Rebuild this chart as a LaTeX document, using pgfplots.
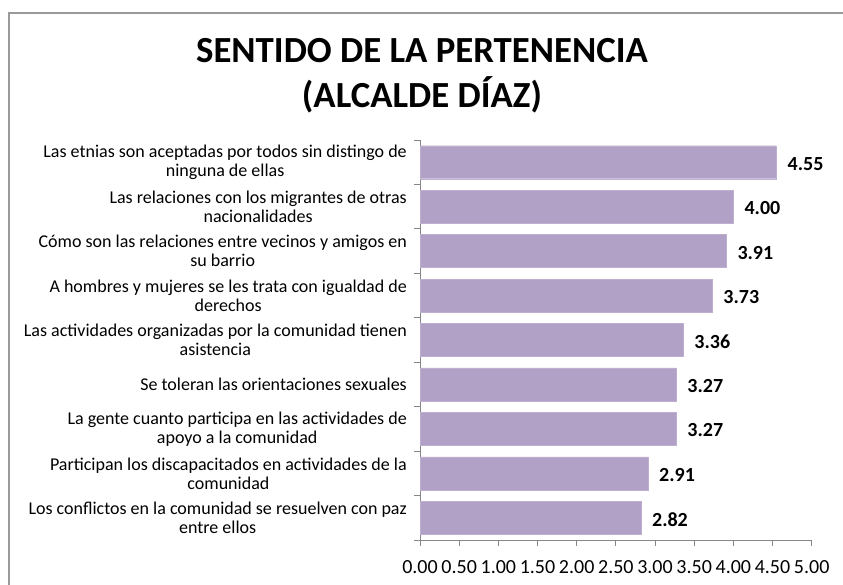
\documentclass[border=0pt]{standalone}
\usepackage{fontspec}
\setmainfont{Carlito}
\usepackage{pgfplots}
\pgfplotsset{compat=1.18}
\definecolor{barfill}{HTML}{B2A1C7}
\definecolor{framegray}{HTML}{9A9A9A}
\definecolor{axisgray}{HTML}{868686}

\begin{document}
\begin{tikzpicture}[x=1bp,y=1bp]
\useasboundingbox (0,0) rectangle (843,585);
% chart frame (runs off the right and bottom edges)
\draw[framegray, line width=1.3bp] (9,0) -- (9,572) -- (843,572);
% title
\node[anchor=base, font=\fontsize{36.8bp}{42bp}\selectfont\bfseries] at (422,522) {SENTIDO DE LA PERTENENCIA};
\node[anchor=base, font=\fontsize{36.8bp}{42bp}\selectfont\bfseries] at (422,477) {(ALCALDE DÍAZ)};

\begin{axis}[
    at={(420bp,45bp)}, anchor=south west,
    scale only axis,
    width=391.7bp, height=400bp,
    xbar,
    bar width=33bp,
    xmin=0, xmax=5,
    ymin=0.5, ymax=9.5,
    xtick={0,0.5,...,5},
    ytick={1,...,9},
    minor ytick={0.5,1.5,...,9.5},
    yticklabels={
        {Los conflictos en la comunidad se resuelven con paz\\entre ellos},
        {Participan los discapacitados en actividades de la\\comunidad},
        {La gente cuanto participa en las actividades de\\apoyo a la comunidad},
        {Se toleran las orientaciones sexuales},
        {Las actividades organizadas por la comunidad tienen\\asistencia},
        {A hombres y mujeres se les trata con igualdad de\\derechos},
        {Cómo son las relaciones entre vecinos y amigos en\\su barrio},
        {Las relaciones con los migrantes de otras\\nacionalidades},
        {Las etnias son aceptadas por todos sin distingo de\\ninguna de ellas}
    },
    axis x line*=bottom,
    axis y line*=left,
    axis line style={axisgray, line width=0.9bp, -},
    tick style={axisgray, line width=0.9bp},
    tick align=outside,
    major tick length=6bp,
    minor tick length=6bp,
    major y tick style={draw=none},
    minor y tick style={axisgray, line width=0.9bp},
    /pgf/number format/assume math mode=true,
    xticklabel style={font=\fontsize{20bp}{24bp}\selectfont, /pgf/number format/fixed, /pgf/number format/fixed zerofill, /pgf/number format/precision=2, yshift=-11bp},
    yticklabel style={font=\fontsize{18bp}{19bp}\selectfont, align=center, inner sep=0pt, xshift=-7bp},
    nodes near coords,
    nodes near coords style={font=\fontsize{20bp}{22bp}\selectfont\bfseries, anchor=west, inner sep=0pt, xshift=11bp, yshift=-1.5bp, /pgf/number format/fixed, /pgf/number format/fixed zerofill, /pgf/number format/precision=2, /pgf/number format/assume math mode=true},
    clip=false,
]
\addplot[fill=barfill, draw=barfill!85!white] coordinates {
    (2.82,1)
    (2.91,2)
    (3.27,3)
    (3.27,4)
    (3.36,5)
    (3.73,6)
    (3.91,7)
    (4.00,8)
    (4.55,9)
};
\end{axis}
\end{tikzpicture}
\end{document}
